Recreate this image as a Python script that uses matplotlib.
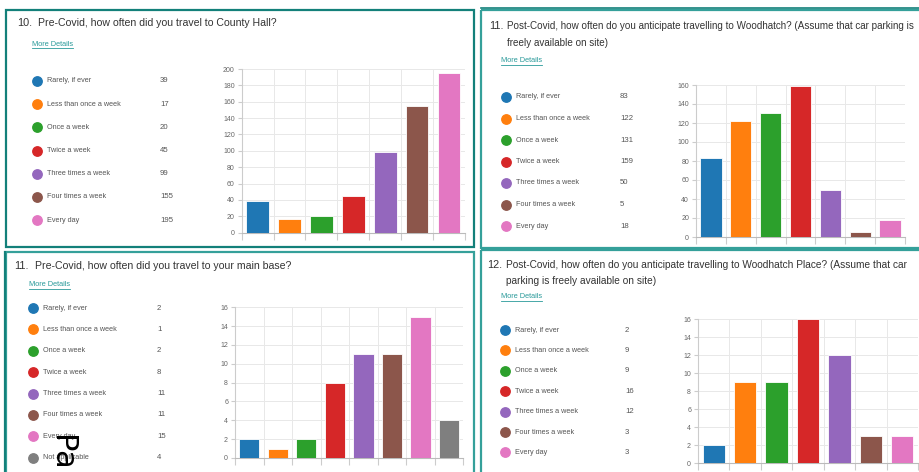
import numpy as np
import matplotlib
matplotlib.use('Agg')
import matplotlib.pyplot as plt
from matplotlib.patches import Rectangle

plt.rcParams['font.family'] = ['Liberation Sans', 'DejaVu Sans']

W, H = 920, 472

# data
cats7 = ['Rarely, if ever', 'Less than once a week', 'Once a week', 'Twice a week',
         'Three times a week', 'Four times a week', 'Every day']
cats8 = cats7 + ['Not applicable']
colors = ['#1f77b4', '#ff7f0e', '#2ca02c', '#d62728', '#9467bd', '#8c564b', '#e377c2', '#7f7f7f']

q10_title = ['Pre-Covid, how often did you travel to County Hall?']
q10_vals = [39, 17, 20, 45, 99, 155, 195]

q11b_title = ['Post-Covid, how often do you anticipate travelling to Woodhatch? (Assume that car parking is',
              'freely available on site)']
q11b_vals = [83, 122, 131, 159, 50, 5, 18]

q11_title = ['Pre-Covid, how often did you travel to your main base?']
q11_vals = [2, 1, 2, 8, 11, 11, 15, 4]

q12_title = ['Post-Covid, how often do you anticipate travelling to Woodhatch Place? (Assume that car',
             'parking is freely available on site)']
q12_vals = [2, 9, 9, 16, 12, 3, 3]

fig = plt.figure(figsize=(W / 100, H / 100), dpi=100)
fig.patch.set_facecolor('white')

bg = fig.add_axes([0, 0, 1, 1])
bg.set_xlim(0, W)
bg.set_ylim(H, 0)
bg.axis('off')

teal = '#35a09a'
dark_teal = '#13807a'

# panel borders
bg.add_patch(Rectangle((6.5, 10), 468, 236.5, fill=False, edgecolor=dark_teal, lw=1.6))
bg.add_patch(Rectangle((480.7, 9.5), 460, 238, fill=False, edgecolor=teal, lw=1.6))
bg.plot([480.7, 940], [8, 8], color=dark_teal, lw=1.2)
bg.add_patch(Rectangle((6.5, 252), 467.5, 240, fill=False, edgecolor=teal, lw=1.6))
bg.plot([5.5, 5.5], [252, 472], color=dark_teal, lw=1.6)
bg.add_patch(Rectangle((480.7, 250), 460, 240, fill=False, edgecolor=teal, lw=1.6))

links = []


def panel(num, title, tsize, nx, tx, ty, dy, link_xy, cats, vals, lx, ly0, ldy, vx, ax_box, ymax, ystep):
    bg.text(nx, ty, num, fontsize=7.8, color='#333333', va='center', ha='left')
    for i, line in enumerate(title):
        bg.text(tx, ty + i * dy, line, fontsize=tsize, color='#333333', va='center', ha='left')
    t = bg.text(link_xy[0], link_xy[1], 'More Details', fontsize=5.3, color='#2a9a9a',
                va='center', ha='left')
    links.append(t)
    for i, (c, v) in enumerate(zip(cats, vals)):
        y = ly0 + i * ldy
        bg.scatter([lx], [y], s=46, color=colors[i], zorder=3)
        bg.text(lx + 10, y, c, fontsize=5.2, color='#555555', va='center', ha='left')
        bg.text(vx, y, str(v), fontsize=5.6, color='#555555', va='center', ha='left')

    left, right, top, bottom = ax_box
    ax = fig.add_axes([left / W, 1 - bottom / H, (right - left) / W, (bottom - top) / H])
    n = len(vals)
    x = np.arange(n) + 0.5
    ax.bar(x, vals, width=0.71, color=colors[:n], edgecolor='white', linewidth=0.6, zorder=3)
    ax.set_xlim(0, n)
    ax.set_ylim(0, ymax)
    ax.set_xticks(np.arange(n + 1))
    ax.set_xticklabels([])
    ax.set_yticks(np.arange(0, ymax + 1, ystep))
    ax.tick_params(axis='x', length=5, color='#cccccc', width=0.8)
    ax.tick_params(axis='y', length=3, color='#cccccc', width=0.8, labelsize=5, labelcolor='#666666', pad=2)
    ax.grid(True, color='#e8e8e8', lw=0.7, zorder=0)
    for s in ['top', 'right']:
        ax.spines[s].set_visible(False)
    ax.spines['left'].set_color('#cccccc')
    ax.spines['bottom'].set_color('#bbbbbb')
    ax.patch.set_alpha(0)
    return ax


panel('10.', q10_title, 7.6, 17, 38, 23, 17, (32, 44), cats7, q10_vals, 37, 81, 23.2, 160,
      (241.7, 465, 69, 232.7), 200, 20)
panel('11.', q11b_title, 7.1, 489, 507, 26, 17, (501, 61), cats7, q11b_vals, 506, 97, 21.5, 620,
      (696, 905, 85, 237), 160, 20)
panel('11.', q11_title, 7.6, 14, 35, 266, 17, (29, 285), cats8, q11_vals, 33, 308, 21.4, 157,
      (235, 463.3, 307.3, 458), 16, 2)
panel('12.', q12_title, 7.3, 487, 506, 265, 15.7, (501, 297), cats7, q12_vals, 505, 330, 20.4, 625,
      (698, 918, 319, 463), 16, 2)

# stray overlay text at the bottom left
bg.text(61, 435, 'Pa', fontsize=22, color='black', rotation=-90, ha='center', va='top',
        family='DejaVu Sans', zorder=5)

# underline the links
fig.canvas.draw()
inv = bg.transData.inverted()
for t in links:
    bb = t.get_window_extent()
    (x0, y0), (x1, y1) = inv.transform([[bb.x0, bb.y0], [bb.x1, bb.y1]])
    bg.plot([x0, x1], [y0 + 0.3, y0 + 0.3], color='#2a9a9a', lw=0.6)

fig.savefig('out.png', dpi=100, facecolor='white')
